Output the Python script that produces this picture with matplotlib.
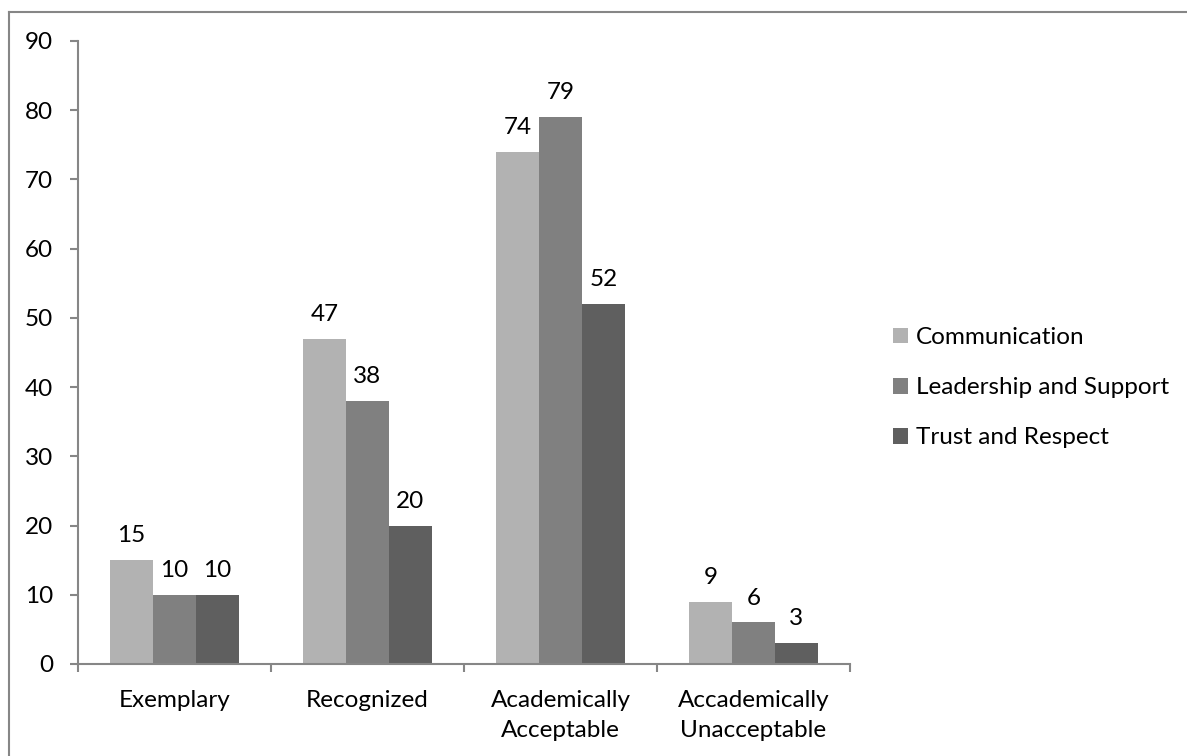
import numpy as np
import matplotlib.pyplot as plt
from matplotlib.lines import Line2D

plt.rcParams['font.family'] = ['Lato', 'DejaVu Sans']

# Datos del gráfico
categorias = ['Exemplary', 'Recognized', 'Academically\nAcceptable', 'Accademically\nUnacceptable']
series = ['Communication', 'Leadership and Support', 'Trust and Respect']
communication = [15, 47, 74, 9]
leadership = [10, 38, 79, 6]
trust = [10, 20, 52, 3]
colores = ['#b2b2b2', '#808080', '#5f5f5f']
gris = '#868686'
tam = 17.5

fig = plt.figure(figsize=(11.87, 7.56), dpi=100)
ax = fig.add_axes([0.0657, 0.1217, 0.6504, 0.8241])

x = np.arange(len(categorias))
ancho = 1 / 4.5
valores = [communication, leadership, trust]
for k, (vals, nombre, col) in enumerate(zip(valores, series, colores)):
    pos = x + (k - 1) * ancho
    barras = ax.bar(pos, vals, width=ancho, color=col, label=nombre)
    for b, v in zip(barras, vals):
        ax.annotate(str(v), (b.get_x() + b.get_width() / 2, v),
                    xytext=(0, 10), textcoords='offset points',
                    ha='center', va='bottom', fontsize=tam)

ax.set_xlim(-0.5, len(categorias) - 0.5)
ax.set_ylim(0, 90)
ax.set_yticks(range(0, 91, 10))
ax.set_xticks(x)
ax.set_xticklabels(categorias, fontsize=tam, linespacing=1.5)
ax.set_xticks(np.arange(-0.5, len(categorias)), minor=True)
ax.tick_params(axis='x', which='major', length=0, pad=19)
ax.tick_params(axis='x', which='minor', length=6, width=1.5, color=gris)
ax.tick_params(axis='y', length=6, width=1.5, color=gris, labelsize=tam, pad=12)

for lado in ['top', 'right']:
    ax.spines[lado].set_visible(False)
for lado in ['left', 'bottom']:
    ax.spines[lado].set_color(gris)
    ax.spines[lado].set_linewidth(1.5)

leg = fig.legend(loc='center left', bbox_to_anchor=(0.752, 0.487),
                 frameon=False, fontsize=tam, handlelength=0.62,
                 handleheight=0.62, handletextpad=0.35, labelspacing=1.2,
                 borderpad=0, borderaxespad=0)

# Marco del área del gráfico
fig.add_artist(Line2D([9 / 1187, 9 / 1187], [0, 1 - 12 / 756],
                      color=gris, lw=1.5, transform=fig.transFigure))
fig.add_artist(Line2D([9 / 1187, 1], [1 - 12 / 756, 1 - 12 / 756],
                      color=gris, lw=1.5, transform=fig.transFigure))

fig.savefig('out.png', dpi=100, facecolor='white')
